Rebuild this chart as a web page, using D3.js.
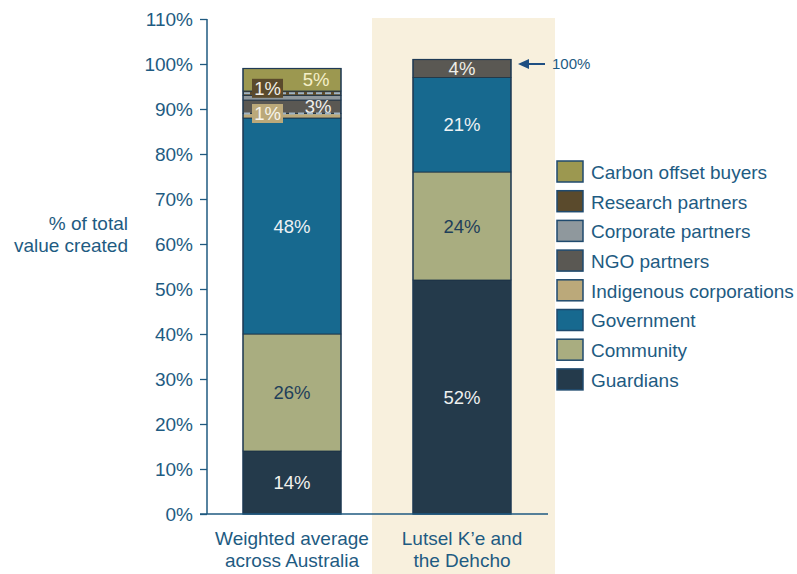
<!DOCTYPE html>
<html>
<head>
<meta charset="utf-8">
<script src="https://cdn.jsdelivr.net/npm/d3@7"></script>
<style>
  html, body { margin: 0; padding: 0; background: #ffffff; }
  svg { display: block; font-family: "Liberation Sans", Arial, sans-serif; }
</style>
</head>
<body>
<svg id="chart" width="797" height="574"></svg>
<script>
// Stacked shares of total value created, bottom-up stacking order
const categories = ["Weighted average|across Australia", "Lutsel K\u2019e and|the Dehcho"];
const seriesNames = ["Guardians", "Community", "Government", "Indigenous corporations",
                     "NGO partners", "Corporate partners", "Research partners", "Carbon offset buyers"];
const australiaValues = [14, 26, 48, 1, 3, 1, 1, 5];
const dehchoValues    = [52, 24, 21, 0, 4, 0, 0, 0];
const seriesColors = ["#243a4b", "#a9ad80", "#17698f", "#bba97a",
                      "#5a5853", "#8f989d", "#5a4a2c", "#9c9850"];
const yTicks = [0, 10, 20, 30, 40, 50, 60, 70, 80, 90, 100, 110];
const legendOrder = ["Carbon offset buyers", "Research partners", "Corporate partners", "NGO partners",
                     "Indigenous corporations", "Government", "Community", "Guardians"];

const textBlue = "#1e5b82";
const svg = d3.select("#chart");

const table = categories.map((c, i) => {
  const row = { category: c };
  const vals = i === 0 ? australiaValues : dehchoValues;
  seriesNames.forEach((s, j) => row[s] = vals[j]);
  return row;
});
const stacked = d3.stack().keys(seriesNames)(table);

const x = d3.scaleBand().domain(categories).range([207, 547])
  .paddingInner(0.4235).paddingOuter(0.2118);
const y = d3.scaleLinear().domain([0, 110]).range([514, 19]);
const color = d3.scaleOrdinal().domain(seriesNames).range(seriesColors);

// highlighted panel behind the second column
const c2 = x(categories[1]) + x.bandwidth() / 2;
svg.append("rect")
  .attr("x", c2 - 90).attr("y", 18)
  .attr("width", 183).attr("height", 574 - 18)
  .attr("fill", "#f8f0dd");

// bars
const layers = svg.append("g").selectAll("g").data(stacked).join("g")
  .attr("fill", d => color(d.key));
layers.selectAll("rect").data(d => d.filter(p => p[1] - p[0] > 0)).join("rect")
  .attr("x", d => x(d.data.category))
  .attr("width", x.bandwidth())
  .attr("y", d => y(d[1]))
  .attr("height", d => y(d[0]) - y(d[1]))
  .attr("stroke", "#1d3346").attr("stroke-width", 0.8);

// bar outlines
svg.append("g").selectAll("rect").data(table).join("rect")
  .attr("x", d => x(d.category))
  .attr("width", x.bandwidth())
  .attr("y", d => y(d3.sum(seriesNames, s => d[s])))
  .attr("height", d => y(0) - y(d3.sum(seriesNames, s => d[s])))
  .attr("fill", "none").attr("stroke", "#1f3a55").attr("stroke-width", 1.2);

// segment value labels
const labelFont = 18.5;
function segMid(ci, key) {
  const layer = stacked.find(l => l.key === key)[ci];
  return { y0: layer[0], y1: layer[1], mid: (layer[0] + layer[1]) / 2 };
}
const gl = svg.append("g").attr("font-size", labelFont).attr("text-anchor", "middle");
function barLabel(ci, key, fill, dx) {
  const m = segMid(ci, key);
  const v = ci === 0 ? australiaValues[seriesNames.indexOf(key)] : dehchoValues[seriesNames.indexOf(key)];
  gl.append("text")
    .attr("x", x(categories[ci]) + x.bandwidth() / 2 + (dx || 0))
    .attr("y", y(m.mid)).attr("dy", "0.36em")
    .attr("fill", fill).text(v + "%");
}
barLabel(0, "Guardians", "#f2f2ee");
barLabel(0, "Community", "#1f3f5a");
barLabel(0, "Government", "#eef2f4");
barLabel(1, "Guardians", "#eef0f0");
barLabel(1, "Community", "#1f3f5a");
barLabel(1, "Government", "#eef2f4");
barLabel(1, "NGO partners", "#f0efe8");
barLabel(0, "Carbon offset buyers", "#f4efc8", 24);
barLabel(0, "NGO partners", "#f0f0ec", 26);

// call-out boxes for the thin 1% segments, each with its leader line
function calloutBox(key, yVal, lineOffset) {
  const v = australiaValues[seriesNames.indexOf(key)];
  const bx = x(categories[0]) + 9, bw = 31, bh = 19;
  const cy = y(yVal);
  svg.append("line")
    .attr("x1", x(categories[0]) + 1).attr("x2", x(categories[0]) + x.bandwidth() - 1)
    .attr("y1", cy + lineOffset).attr("y2", cy + lineOffset)
    .attr("stroke", "#9fb4c4").attr("stroke-width", 2).attr("stroke-dasharray", "6,3");
  svg.append("rect").attr("x", bx).attr("y", cy - bh / 2).attr("width", bw).attr("height", bh)
    .attr("fill", color(key));
  svg.append("text").attr("x", bx + bw / 2).attr("y", cy).attr("dy", "0.36em")
    .attr("text-anchor", "middle").attr("font-size", labelFont)
    .attr("fill", key === "Research partners" ? "#f2efe6" : "#f7f4ea").text(v + "%");
}
calloutBox("Research partners", 94.6, 5);
calloutBox("Indigenous corporations", 89.0, 0);

// y axis
const yAxis = svg.append("g").attr("transform", "translate(207,0)")
  .call(d3.axisLeft(y).tickValues(yTicks).tickFormat(d => d + "%").tickSize(7).tickPadding(7));
yAxis.select(".domain").attr("stroke", "#1f5a80").attr("stroke-width", 1.5).attr("d", "M0,19V514");
yAxis.selectAll(".tick line").attr("stroke", "#1f5a80").attr("stroke-width", 1.3);
yAxis.selectAll(".tick text").attr("fill", textBlue).attr("font-size", 19)
  .attr("font-family", "Liberation Sans, Arial, sans-serif");

// x axis baseline and category labels
svg.append("line").attr("x1", 200).attr("x2", 548).attr("y1", y(0)).attr("y2", y(0))
  .attr("stroke", "#1f5a80").attr("stroke-width", 1.5);
const xl = svg.append("g").attr("font-size", 19).attr("fill", textBlue).attr("text-anchor", "middle");
categories.forEach(c => {
  const t = xl.append("text").attr("x", x(c) + x.bandwidth() / 2).attr("y", 545);
  c.split("|").forEach((line, i) => {
    t.append("tspan").attr("x", x(c) + x.bandwidth() / 2).attr("dy", i === 0 ? 0 : 22).text(line);
  });
});

// y axis title
const yt = svg.append("text").attr("font-size", 19).attr("fill", textBlue).attr("text-anchor", "end");
yt.append("tspan").attr("x", 128).attr("y", 230).text("% of total");
yt.append("tspan").attr("x", 128).attr("y", 252).text("value created");

// 100% marker arrow
const ay = y(100);
svg.append("line").attr("x1", 545).attr("x2", 526).attr("y1", ay).attr("y2", ay)
  .attr("stroke", "#1f4f82").attr("stroke-width", 2);
svg.append("path").attr("d", `M518,${ay}L529,${ay - 5}L529,${ay + 5}Z`).attr("fill", "#1f4f82");
svg.append("text").attr("x", 552).attr("y", ay).attr("dy", "0.36em")
  .attr("font-size", 15).attr("fill", textBlue).text("100%");

// legend
const legend = svg.append("g").attr("transform", "translate(557,161)");
legendOrder.forEach((name, i) => {
  const g = legend.append("g").attr("transform", `translate(0,${i * 29.7})`);
  g.append("rect").attr("x", 0).attr("y", 0).attr("width", 26).attr("height", 21)
    .attr("fill", color(name)).attr("stroke", "#1f4a6e").attr("stroke-width", 1.5);
  g.append("text").attr("x", 34).attr("y", 11).attr("dy", "0.36em")
    .attr("font-size", 19).attr("fill", textBlue).text(name);
});
</script>
</body>
</html>
